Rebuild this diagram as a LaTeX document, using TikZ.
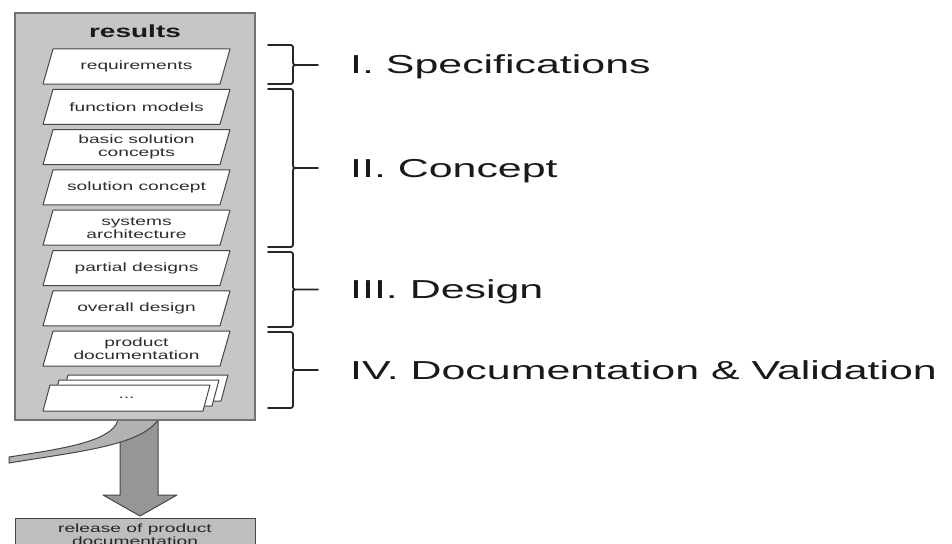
\documentclass[tikz,border=0pt]{standalone}
\usepackage{fontspec}
\setmainfont{Liberation Sans}
\usepackage{graphicx}
\usetikzlibrary{positioning}

\definecolor{colfill}{RGB}{198,198,198}
\definecolor{colline}{RGB}{115,115,115}
\definecolor{boxline}{RGB}{70,70,70}
\definecolor{textgray}{RGB}{45,45,45}
\definecolor{arrowfill}{RGB}{150,150,150}
\definecolor{swooshfill}{RGB}{178,178,178}
\definecolor{relfill}{RGB}{190,190,190}

\tikzset{
  column/.style={fill=colfill,draw=colline,line width=1.6pt},
  resframe/.style={draw=boxline,fill=white,line width=1pt,line join=round},
  restext/.style={font=\fontsize{12}{13}\selectfont,text=textgray,align=center,inner sep=0pt},
  phase/.style={font=\fontsize{26}{30}\selectfont,text=black!90,anchor=base west,inner sep=0pt},
  bracket/.style={line width=1.8pt,draw=black!85,line cap=round,line join=round},
  bigarrow/.style={fill=arrowfill,draw=boxline,line width=1pt,line join=round},
}

% stretched text, like the rest of the sheet
\newcommand{\wide}[1]{\scalebox{1.6}[1]{#1}}
\newcommand{\widephase}[1]{\scalebox{1.65}[1]{#1}}

% one result sheet: node name, top edge, label
\newcommand{\resbox}[3]{%
  \draw[resframe] (53,#2) -- (230,#2) -- (220,#2+35) -- (43,#2+35) -- cycle;
  \node[restext] (#1) at (136.5,#2+17.5) {#3};}

% curly bracket: top, middle, bottom
\newcommand{\phasebrace}[3]{%
  \draw[bracket] (268,#1) -- (288,#1) .. controls (293,#1) .. (293,#1+5)
    -- (293,#2-5) .. controls (293,#2) .. (298,#2) -- (318,#2)
    (298,#2) .. controls (293,#2) .. (293,#2+5)
    -- (293,#3-5) .. controls (293,#3) .. (288,#3) -- (268,#3);}

\begin{document}
\begin{tikzpicture}[x=1pt,y=-1pt]
\useasboundingbox (0,0) rectangle (952,543);
\clip (0,0) rectangle (952,543);

% output arrow and the incoming swoosh
\draw[bigarrow] (120,420) -- (120,495) -- (103,495) -- (140,516)
  -- (177,495) -- (158,495) -- (158,420) -- cycle;
\draw[fill=swooshfill,draw=boxline,line width=1pt]
  (118,420) .. controls (112,442) and (60,449) .. (9,457)
  -- (9,463) .. controls (75,452) and (140,446) .. (158,420) -- cycle;

% results column
\draw[column] (15,13) rectangle (255,420);
\node[font=\fontsize{17.5}{20}\selectfont\bfseries,text=black!90] (results) at (135,31) {\wide{results}};

\resbox{req}{49}{\wide{requirements}}
\resbox{func}{89.3}{\wide{function models}}
\resbox{basic}{129.6}{\wide{basic solution}\\\wide{concepts}}
\resbox{sol}{169.9}{\wide{solution concept}}
\resbox{arch}{210.2}{\wide{systems}\\\wide{architecture}}
\resbox{partial}{250.5}{\wide{partial designs}}
\resbox{overall}{290.8}{\wide{overall design}}
\resbox{doc}{331.1}{\wide{product}\\\wide{documentation}}

% further sheets, stacked
\draw[resframe] (68,375) -- (228,375) -- (221,401) -- (61,401) -- cycle;
\draw[resframe] (59,380) -- (219,380) -- (212,406) -- (52,406) -- cycle;
\draw[resframe] (50,385) -- (210,385) -- (203,411) -- (43,411) -- cycle;
\node[restext] (more) at (126.5,398) {\wide{...}};

% release box at the bottom
\draw[fill=relfill,draw=boxline,line width=1pt] (15,518) rectangle (255,570);
\node[restext,text=black!85] (release) at (135,534.5) {\wide{release of product}\\\wide{documentation}};

% phases
\phasebrace{45}{65}{84}
\phasebrace{89}{168}{247}
\phasebrace{252}{289.5}{327}
\phasebrace{332}{370}{408}
\node[phase] (spec) at (350,74) {\widephase{I. Specifications}};
\node[phase] (concept) at (350,177) {\widephase{II. Concept}};
\node[phase] (design) at (350,298.5) {\widephase{III. Design}};
\node[phase] (valid) at (350,379) {\widephase{IV. Documentation \& Validation}};
\end{tikzpicture}
\end{document}
